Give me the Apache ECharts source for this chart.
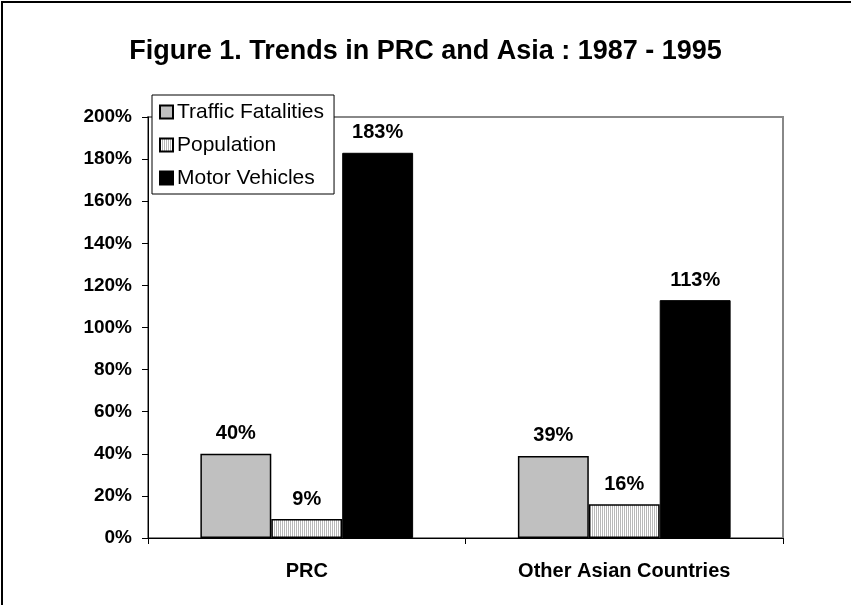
<!DOCTYPE html>
<html>
<head>
<meta charset="utf-8">
<script src="https://cdn.jsdelivr.net/npm/echarts@6/dist/echarts.min.js"></script>
<style>
  html, body { margin: 0; padding: 0; background: #fff; }
  #main { width: 851px; height: 605px; }
</style>
</head>
<body>
<div id="main"></div>
<script>
var categories = ['PRC', 'Other Asian Countries'];
var fatalities = [40, 39];
var population = [9, 16];
var vehicles = [183, 113];
var seriesNames = ['Traffic Fatalities', 'Population', 'Motor Vehicles'];
var yTicks = { min: 0, max: 200, interval: 20 };

var font = "'Liberation Sans', Arial, sans-serif";

// fine vertical hatch for the population bars
var pat = document.createElement('canvas');
pat.width = 2;
pat.height = 2;
var ctx = pat.getContext('2d');
ctx.fillStyle = '#ffffff';
ctx.fillRect(0, 0, 2, 2);
ctx.fillStyle = '#b8b8b8';
ctx.fillRect(0, 0, 1, 2);

var myChart = echarts.init(document.getElementById('main'));

var barLabel = {
    show: true,
    position: 'top',
    distance: 10,
    formatter: '{c}%',
    color: '#000',
    fontFamily: font,
    fontWeight: 'bold',
    fontSize: 20
};

var option = {
    animation: false,
    backgroundColor: '#fff',
    title: {
        text: 'Figure 1. Trends in PRC and Asia : 1987 - 1995',
        left: 'center',
        top: 33,
        textStyle: {
            fontFamily: font,
            fontWeight: 'bold',
            fontSize: 27,
            color: '#000'
        }
    },
    grid: {
        left: 148,
        right: 68,
        top: 117,
        bottom: 67,
        show: true,
        borderColor: '#888',
        borderWidth: 2,
        backgroundColor: 'transparent'
    },
    legend: {
        orient: 'vertical',
        left: 152,
        top: 95,
        data: seriesNames,
        backgroundColor: '#fff',
        borderColor: '#000',
        borderWidth: 1,
        padding: [6, 10, 5, 7],
        itemWidth: 13,
        itemHeight: 13,
        itemGap: 11,
        icon: 'rect',
        textStyle: {
            fontFamily: font,
            fontSize: 21,
            color: '#000',
            lineHeight: 22,
            padding: [0, 0, 0, -1]
        }
    },
    xAxis: {
        type: 'category',
        data: categories,
        axisLine: { lineStyle: { color: '#000', width: 1 } },
        axisTick: { show: true, length: 6, lineStyle: { color: '#000' } },
        axisLabel: {
            margin: 23,
            color: '#000',
            fontFamily: font,
            fontWeight: 'bold',
            fontSize: 20
        }
    },
    yAxis: {
        type: 'value',
        min: yTicks.min,
        max: yTicks.max,
        interval: yTicks.interval,
        axisLine: { show: true, lineStyle: { color: '#000', width: 1 } },
        axisTick: { show: true, length: 6, lineStyle: { color: '#000' } },
        splitLine: { show: false },
        axisLabel: {
            formatter: '{value}%',
            margin: 16,
            color: '#000',
            fontFamily: font,
            fontWeight: 'bold',
            fontSize: 19
        }
    },
    series: [
        {
            name: seriesNames[0],
            type: 'bar',
            data: fatalities,
            barGap: '0%',
            barCategoryGap: '33%',
            itemStyle: { color: '#c0c0c0', borderColor: '#000', borderWidth: 1.5 },
            label: barLabel
        },
        {
            name: seriesNames[1],
            type: 'bar',
            data: population,
            itemStyle: {
                color: { image: pat, repeat: 'repeat' },
                borderColor: '#000',
                borderWidth: 1.5
            },
            label: barLabel
        },
        {
            name: seriesNames[2],
            type: 'bar',
            data: vehicles,
            itemStyle: { color: '#000', borderColor: '#000', borderWidth: 1 },
            label: barLabel
        }
    ],
    graphic: [
        {
            type: 'polyline',
            shape: { points: [[2, 605], [2, 2], [851, 2]] },
            style: { stroke: '#000', lineWidth: 2, fill: null },
            silent: true
        }
    ]
};

myChart.setOption(option);
</script>
</body>
</html>
